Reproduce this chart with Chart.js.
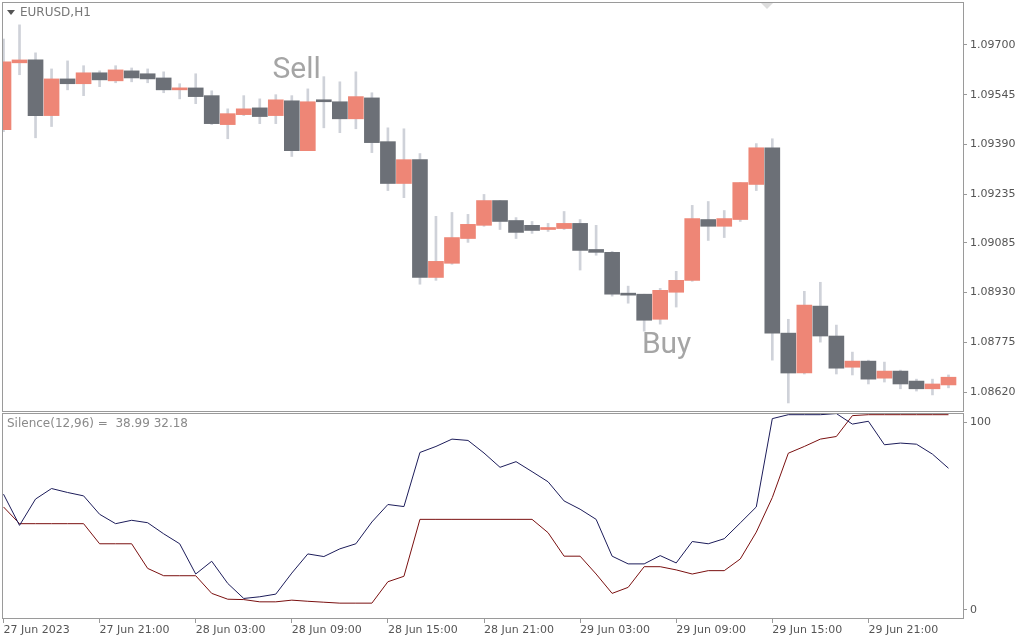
<!DOCTYPE html>
<html>
<head>
<meta charset="utf-8">
<script src="https://cdn.jsdelivr.net/npm/chart.js@4/dist/chart.umd.min.js"></script>
<style>
  body { margin: 0; background: #fff; width: 1024px; height: 640px; overflow: hidden; position: relative; }
  #priceBox { position: absolute; left: 0; top: 0; width: 1024px; height: 412px; }
  #indBox { position: absolute; left: 0; top: 412px; width: 1024px; height: 228px; }
</style>
</head>
<body>
<div id="priceBox"><canvas id="priceChart"></canvas></div>
<div id="indBox"><canvas id="indChart"></canvas></div>
<script>
// EURUSD H1, hourly bars starting 27 Jun 2023 15:00
var opens  = [1.09436,1.09644,1.09653,1.09480,1.09594,1.09579,1.09613,1.09588,1.09619,1.09610,
              1.09597,1.09560,1.09566,1.09542,1.09452,1.09483,1.09504,1.09480,1.09526,1.09371,
              1.09523,1.09523,1.09470,1.09535,1.09399,1.09269,1.09343,1.08977,1.09021,1.09098,
              1.09139,1.09216,1.09154,1.09139,1.09126,1.09129,1.09145,1.09064,1.09055,1.08928,
              1.08925,1.08847,1.08931,1.08968,1.09157,1.09136,1.09157,1.09266,1.09380,1.08804,
              1.08680,1.08888,1.08795,1.08698,1.08717,1.08664,1.08686,1.08655,1.08631,1.08643];
var highs  = [1.09718,1.09762,1.09675,1.09625,1.09650,1.09635,1.09619,1.09635,1.09628,1.09625,
              1.09616,1.09579,1.09610,1.09557,1.09501,1.09542,1.09532,1.09545,1.09542,1.09563,
              1.09601,1.09585,1.09616,1.09551,1.09442,1.09439,1.09362,1.09167,1.09179,1.09173,
              1.09235,1.09216,1.09163,1.09151,1.09145,1.09182,1.09157,1.09139,1.09058,1.08950,
              1.08925,1.08943,1.08996,1.09201,1.09213,1.09185,1.09272,1.09393,1.09408,1.08847,
              1.08934,1.08962,1.08829,1.08745,1.08720,1.08714,1.08689,1.08661,1.08661,1.08674];
var lows   = [1.09430,1.09607,1.09411,1.09446,1.09560,1.09542,1.09570,1.09582,1.09585,1.09582,
              1.09551,1.09532,1.09517,1.09452,1.09408,1.09480,1.09455,1.09455,1.09353,1.09371,
              1.09442,1.09427,1.09439,1.09365,1.09247,1.09225,1.08956,1.08968,1.09018,1.09086,
              1.09136,1.09126,1.09098,1.09114,1.09120,1.09126,1.09000,1.09046,1.08919,1.08897,
              1.08810,1.08832,1.08885,1.08965,1.09092,1.09101,1.09151,1.09247,1.08720,1.08587,
              1.08677,1.08776,1.08677,1.08674,1.08646,1.08652,1.08631,1.08624,1.08612,1.08634];
var closes = [1.09647,1.09653,1.09480,1.09594,1.09579,1.09613,1.09591,1.09622,1.09597,1.09594,
              1.09560,1.09566,1.09539,1.09455,1.09486,1.09501,1.09477,1.09529,1.09371,1.09523,
              1.09523,1.09470,1.09539,1.09396,1.09269,1.09343,1.08977,1.09027,1.09101,1.09142,
              1.09216,1.09151,1.09117,1.09123,1.09132,1.09145,1.09061,1.09055,1.08925,1.08922,
              1.08844,1.08937,1.08968,1.09160,1.09136,1.09160,1.09272,1.09380,1.08804,1.08680,
              1.08891,1.08795,1.08695,1.08717,1.08661,1.08686,1.08646,1.08631,1.08646,1.08667];

// Silence(12,96) indicator lines
var silenceFast = [61.6,45,59,64.6,62.5,60.7,50.9,45.9,47.7,46.4,
                   40.5,35.2,19.1,25.9,14.1,6.1,7,8.4,19.6,29.8,
                   28.4,32.5,35.2,46.8,56.1,55,83.8,87,90.9,90.2,
                   83.5,75.9,78.9,73.6,68.2,58,53.6,48.2,28.6,24.5,
                   24.5,28.9,25,36.4,35.2,37.9,46.3,54.8,101.8,103.9,
                   103.9,103.9,104.5,98.9,100.4,87.9,88.8,88.2,82.9,75.4];
var silenceSlow = [54.8,45.9,45.9,45.9,45.9,45.9,35.2,35.2,35.2,22.1,
                   18.2,18.2,18.2,8.8,5.7,5.5,4.3,4.3,5.2,4.6,
                   4.1,3.6,3.6,3.6,15,17.9,48.2,48.2,48.2,48.2,
                   48.2,48.2,48.2,48.2,41.1,28.6,28.6,19.1,8.8,12,
                   23,23,21.3,19.1,20.9,20.9,27.1,41.4,59.8,83.4,
                   87,90.9,92.3,103.4,103.9,103.9,103.9,103.9,103.9,103.9];

var priceTicks = [1.08620,1.08775,1.08930,1.09085,1.09235,1.09390,1.09545,1.09700];
var timeTickIdx = [0,6,12,18,24,30,36,42,48,54];
var timeTickLabels = ["27 Jun 2023","27 Jun 21:00","28 Jun 03:00","28 Jun 09:00","28 Jun 15:00",
                      "28 Jun 21:00","29 Jun 03:00","29 Jun 09:00","29 Jun 15:00","29 Jun 21:00"];

var bullColor = "#ee8676";
var bearColor = "#6c7077";
var wickColor = "#cfd2d9";
var frameColor = "#9a9a9a";
var textColor = "#555";
var fontFamily = "Tahoma, 'DejaVu Sans', sans-serif";

Chart.defaults.font.family = fontFamily;
Chart.defaults.font.size = 11;
Chart.defaults.color = textColor;
Chart.defaults.animation = false;

var xMin = -0.094, xMax = 59.906;

var bodies = [], wicks = [], bodyColors = [];
for (var i = 0; i < opens.length; i++) {
    bodies.push({ x: i, y: [opens[i], closes[i]] });
    wicks.push({ x: i, y: [lows[i], highs[i]] });
    bodyColors.push(closes[i] > opens[i] ? bullColor : bearColor);
}

function noPad(s) {
    s.paddingTop = 0;
    s.paddingBottom = 0;
}

var frame = {
    id: "frame",
    afterDraw: function(chart) {
        var a = chart.chartArea, ctx = chart.ctx;
        ctx.save();
        ctx.strokeStyle = frameColor;
        ctx.lineWidth = 1;
        ctx.strokeRect(a.left + 0.5, a.top + 0.5, a.right - a.left, a.bottom - a.top);
        ctx.restore();
    }
};

var priceDecor = {
    id: "priceDecor",
    afterDraw: function(chart) {
        var ctx = chart.ctx, xs = chart.scales.x, ys = chart.scales.y;
        ctx.save();
        ctx.fillStyle = "#555";
        ctx.beginPath();
        ctx.moveTo(7, 10); ctx.lineTo(15, 10); ctx.lineTo(11, 15); ctx.fill();
        ctx.font = "12px " + fontFamily;
        ctx.fillStyle = "#777";
        ctx.textBaseline = "middle";
        ctx.fillText("EURUSD,H1", 20, 13);
        ctx.fillStyle = "#ddd";
        ctx.beginPath();
        ctx.moveTo(761, 3); ctx.lineTo(773, 3); ctx.lineTo(767, 9); ctx.fill();
        ctx.font = "30px Roboto, sans-serif";
        ctx.fillStyle = "#a5a5a5";
        ctx.textAlign = "center";
        ctx.fillText("Sell", xs.getPixelForValue(18.3), ys.getPixelForValue(1.09619));
        ctx.fillText("Buy", xs.getPixelForValue(41.4), ys.getPixelForValue(1.08767));
        ctx.restore();
    }
};

new Chart(document.getElementById("priceChart"), {
    type: "bar",
    data: {
        datasets: [
            { data: bodies, backgroundColor: bodyColors, barThickness: 15, minBarLength: 2, grouped: false, order: 1 },
            { data: wicks, backgroundColor: wickColor, barThickness: 2, grouped: false, order: 2 }
        ]
    },
    options: {
        responsive: true,
        maintainAspectRatio: false,
        layout: { padding: { left: 2, top: 2, bottom: 1, right: 0 } },
        plugins: { legend: { display: false }, tooltip: { enabled: false } },
        scales: {
            x: { type: "linear", min: xMin, max: xMax, offset: false, display: false },
            y: {
                position: "right",
                min: 1.08562, max: 1.09833,
                afterFit: function(s) { s.width = 61; noPad(s); },
                afterBuildTicks: function(s) { s.ticks = priceTicks.map(function(v) { return { value: v }; }); },
                ticks: { callback: function(v) { return v.toFixed(5); }, padding: 3, color: textColor },
                grid: { drawOnChartArea: false, tickLength: 4, color: frameColor },
                border: { color: frameColor }
            }
        }
    },
    plugins: [frame, priceDecor]
});

var indDecor = {
    id: "indDecor",
    afterDraw: function(chart) {
        var ctx = chart.ctx;
        ctx.save();
        ctx.font = "12px " + fontFamily;
        ctx.fillStyle = "#8a8a8a";
        ctx.textBaseline = "middle";
        ctx.fillText("Silence(12,96) =  38.99 32.18", 7, 12);
        ctx.restore();
    }
};

function pts(arr) {
    return arr.map(function(v, i) { return { x: i, y: v }; });
}

new Chart(document.getElementById("indChart"), {
    type: "line",
    data: {
        datasets: [
            { data: pts(silenceFast), borderColor: "#1c1c5a", borderWidth: 1, pointRadius: 0, tension: 0 },
            { data: pts(silenceSlow), borderColor: "#7a1010", borderWidth: 1, pointRadius: 0, tension: 0 }
        ]
    },
    options: {
        responsive: true,
        maintainAspectRatio: false,
        layout: { padding: { left: 2, top: 1, bottom: 0, right: 0 } },
        plugins: { legend: { display: false }, tooltip: { enabled: false } },
        scales: {
            x: {
                type: "linear", min: xMin, max: xMax,
                afterFit: function(s) { s.height = 22; },
                afterBuildTicks: function(s) { s.ticks = timeTickIdx.map(function(v) { return { value: v }; }); },
                ticks: {
                    align: "start", maxRotation: 0, autoSkip: false, padding: 1, color: textColor,
                    callback: function(v) { return timeTickLabels[timeTickIdx.indexOf(v)]; }
                },
                grid: { drawOnChartArea: false, tickLength: 5, color: frameColor },
                border: { color: frameColor }
            },
            y: {
                position: "right",
                min: -4.3, max: 104.8,
                afterFit: function(s) { s.width = 61; noPad(s); },
                afterBuildTicks: function(s) { s.ticks = [{ value: 0 }, { value: 100 }]; },
                ticks: { padding: 3, color: textColor },
                grid: { drawOnChartArea: false, tickLength: 4, color: frameColor },
                border: { color: frameColor }
            }
        }
    },
    plugins: [frame, indDecor]
});
</script>
</body>
</html>
